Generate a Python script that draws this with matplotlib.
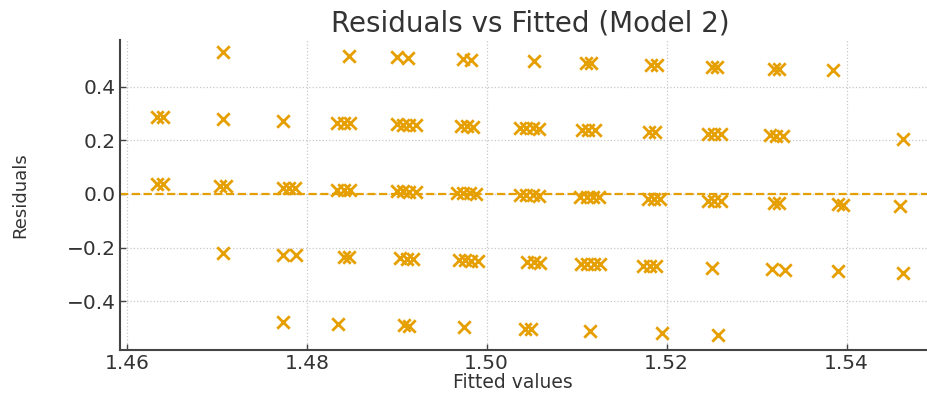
import matplotlib
matplotlib.use('Agg')
import matplotlib.pyplot as plt
import numpy as np

# fitted values, grouped by the observed response level
fitted_200 = [1.4707, 1.4847, 1.4900, 1.4913, 1.4974, 1.4983, 1.5053, 1.5110, 1.5116,
              1.5183, 1.5189, 1.5250, 1.5256, 1.5319, 1.5325, 1.5385]
fitted_175 = [1.4634, 1.4640, 1.4707, 1.4773, 1.4834, 1.4841, 1.4848, 1.4900, 1.4907,
              1.4914, 1.4921, 1.4971, 1.4978, 1.4985, 1.5037, 1.5044, 1.5051, 1.5058,
              1.5106, 1.5113, 1.5120, 1.5180, 1.5187, 1.5246, 1.5253, 1.5260, 1.5315,
              1.5322, 1.5329, 1.5463]
fitted_150 = [1.4634, 1.4640, 1.4704, 1.4710, 1.4773, 1.4780, 1.4787, 1.4834, 1.4841,
              1.4848, 1.4900, 1.4907, 1.4914, 1.4921, 1.4967, 1.4974, 1.4981, 1.4988,
              1.5037, 1.5044, 1.5051, 1.5058, 1.5104, 1.5111, 1.5118, 1.5125, 1.5179,
              1.5186, 1.5193, 1.5246, 1.5253, 1.5260, 1.5319, 1.5325, 1.5390, 1.5396,
              1.5459]
fitted_125 = [1.4707, 1.4774, 1.4788, 1.4841, 1.4847, 1.4904, 1.4911, 1.4918, 1.4969,
              1.4976, 1.4983, 1.4990, 1.5045, 1.5052, 1.5059, 1.5105, 1.5112, 1.5119,
              1.5126, 1.5174, 1.5181, 1.5188, 1.5250, 1.5317, 1.5332, 1.5391, 1.5463]
fitted_100 = [1.4773, 1.4835, 1.4908, 1.4914, 1.4975, 1.5043, 1.5049, 1.5115, 1.5195,
              1.5257]

observed_levels = [2.00, 1.75, 1.50, 1.25, 1.00]
fitted_groups = [fitted_200, fitted_175, fitted_150, fitted_125, fitted_100]

fitted = np.concatenate([np.array(f) for f in fitted_groups])
observed = np.concatenate([np.full(len(f), lvl) for f, lvl in zip(fitted_groups, observed_levels)])
residuals = observed - fitted

color = '#E69F00'

fig = plt.figure(figsize=(9.28, 3.93), dpi=100)
ax = fig.add_axes([0.129, 0.109, 0.885, 0.79])

ax.scatter(fitted, residuals, marker='x', s=80, linewidths=2.0, color=color, zorder=3)
ax.axhline(0, color=color, linestyle='--', linewidth=1.6, zorder=2)

ax.set_xlim(1.4592, 1.5505)
ax.set_ylim(-0.583, 0.576)
ax.set_xticks([1.46, 1.48, 1.50, 1.52, 1.54])
ax.set_yticks([-0.4, -0.2, 0.0, 0.2, 0.4])
ax.set_xticklabels(['1.46', '1.48', '1.50', '1.52', '1.54'])
ax.set_yticklabels(['\u22120.4', '\u22120.2', '0.0', '0.2', '0.4'])

ax.grid(True, linestyle=':', color='#c8c8c8', linewidth=0.9)
ax.set_axisbelow(True)
for side in ['top', 'right']:
    ax.spines[side].set_visible(False)
for side in ['left', 'bottom']:
    ax.spines[side].set_color('#444444')
    ax.spines[side].set_linewidth(1.5)
ax.tick_params(direction='in', length=4, width=1, colors='#444444', labelcolor='#333333',
               labelsize=14.5, pad=3)

ax.set_title('Residuals vs Fitted (Model 2)', fontsize=20, color='#333333', pad=6)
ax.set_xlabel('Fitted values', fontsize=13.5, color='#333333')
ax.set_ylabel('Residuals', fontsize=13, color='#333333')
ax.xaxis.set_label_coords(0.479, -0.072)
ax.yaxis.set_label_coords(-0.11, 0.5)

fig.savefig('out.png', dpi=100)
